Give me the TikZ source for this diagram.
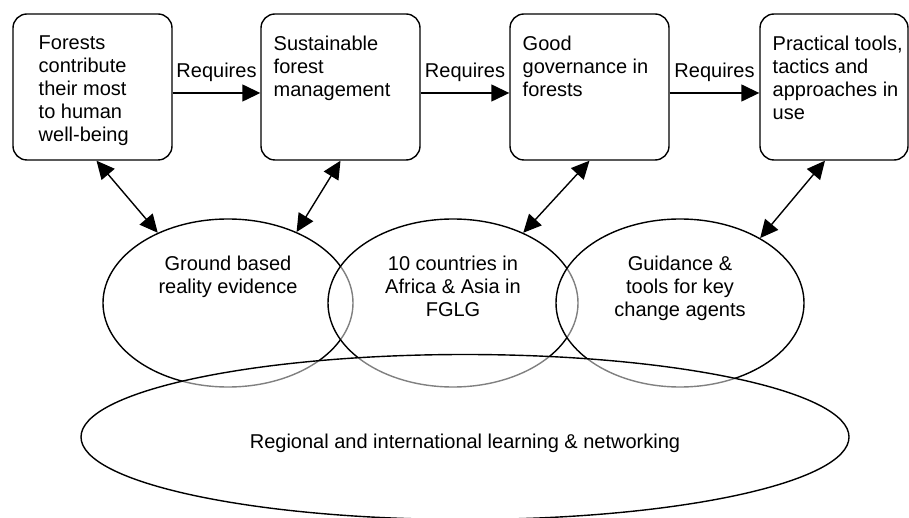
\documentclass[tikz,border=0pt]{standalone}
\usepackage{fontspec}
\setmainfont{Liberation Sans}
\usetikzlibrary{arrows.meta,positioning,calc,shapes.geometric}

\begin{document}
\begin{tikzpicture}[
        x=1pt, y=1pt,
        line width=1.4pt,
        every node/.style={color=black, font=\fontsize{20}{23}\selectfont},
        box/.style={draw, rounded corners=14pt, minimum width=159pt,
            minimum height=146pt, inner sep=0pt},
        txt/.style={inner sep=0pt, align=left, anchor=north west},
        circ/.style={ellipse, draw, fill=white, fill opacity=0.5,
            text opacity=1, minimum width=250pt, minimum height=168pt,
            inner sep=0pt},
        ctxt/.style={inner sep=0pt, align=center, anchor=north},
        lbl/.style={inner sep=0pt, above=11pt},
        req/.style={-{Triangle[length=18pt,width=17pt]}},
        link/.style={{Triangle[length=18pt,width=17pt]}-{Triangle[length=18pt,width=17pt]}},
    ]
    \useasboundingbox (0,0) rectangle (909,517);
    % top row
    \node[box] (b1) at (92.5,430) {};
    \node[box] (b2) at (340.5,430) {};
    \node[box] (b3) at (589.5,430) {};
    \node[box, minimum width=148pt] (b4) at (834,430) {};
    \node[txt] (t1) at (38,481.5) {Forests\\contribute\\their most\\to human\\well-being};
    \node[txt] (t2) at (273,481.5) {Sustainable\\forest\\management};
    \node[txt] (t3) at (522,481.5) {Good\\governance in\\forests};
    \node[txt] (t4) at (772,481.5) {Practical tools,\\tactics and\\approaches in\\use};
    \draw[req] ([yshift=-6pt]b1.east) -- node[lbl] {Requires} ([yshift=-6pt]b2.west);
    \draw[req] ([yshift=-6pt]b2.east) -- node[lbl] {Requires} ([yshift=-6pt]b3.west);
    \draw[req] ([yshift=-6pt]b3.east) -- node[lbl] {Requires} ([yshift=-6pt]b4.west);
    % overlapping ellipses
    \node[circ] (c1) at (228,214) {};
    \node[circ] (c2) at (453,214) {};
    \node[circ, minimum width=248pt] (c3) at (680,214) {};
    \node[circ, minimum width=768pt, minimum height=165pt] (net) at (465,80) {};
    \node[ctxt] (g1) at (228,261.5) {Ground based\\reality evidence};
    \node[ctxt] (g2) at (453,261.5) {10 countries in\\Africa \& Asia in\\FGLG};
    \node[ctxt] (g3) at (680,261.5) {Guidance \&\\tools for key\\change agents};
    \node[inner sep=0pt, anchor=base] (g4) at (465,69) {Regional and international learning \& networking};
    % links
    \draw[link] ([xshift=4pt]b1.south) -- (c1.135);
    \draw[link] (b2.south) -- (c1.46);
    \draw[link] (b3.south) -- (c2.45);
    \draw[link] ([xshift=-9pt]b4.south) -- (c3.39);
\end{tikzpicture}
\end{document}
